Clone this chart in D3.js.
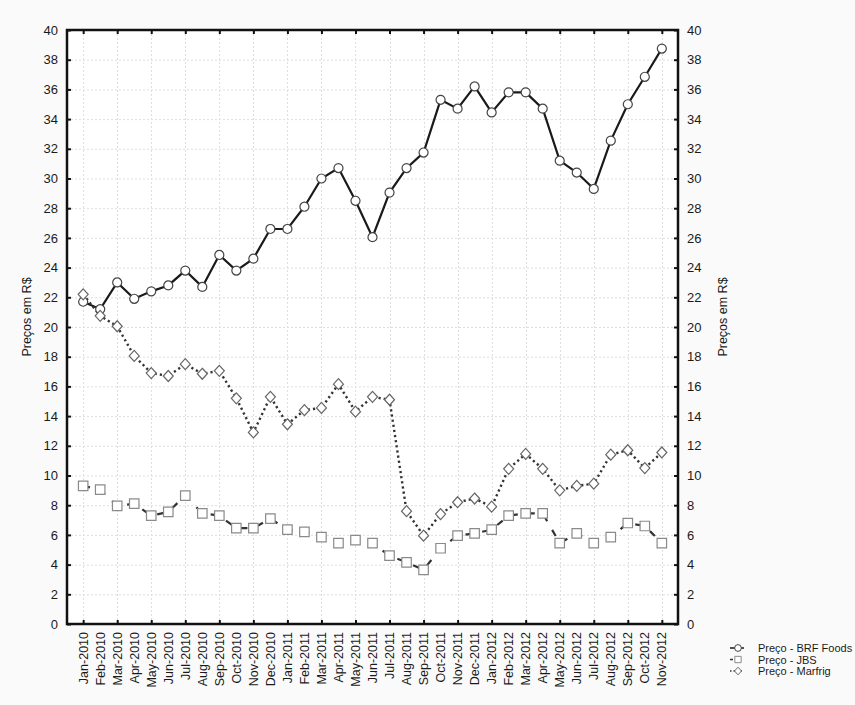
<!DOCTYPE html>
<html>
<head>
<meta charset="utf-8">
<script src="https://cdn.jsdelivr.net/npm/d3@7"></script>
<style>
  html, body { margin: 0; padding: 0; background: #fafafa; }
  svg { display: block; }
  text { font-family: Arial, "Liberation Sans", sans-serif; fill: #1a1a1a; }
</style>
</head>
<body>
<svg id="chart" width="855" height="705"></svg>
<script>
// Monthly share prices (R$), Jan-2010 .. Nov-2012
const months = [
  "Jan-2010","Feb-2010","Mar-2010","Apr-2010","May-2010","Jun-2010","Jul-2010","Aug-2010",
  "Sep-2010","Oct-2010","Nov-2010","Dec-2010","Jan-2011","Feb-2011","Mar-2011","Apr-2011",
  "May-2011","Jun-2011","Jul-2011","Aug-2011","Sep-2011","Oct-2011","Nov-2011","Dec-2011",
  "Jan-2012","Feb-2012","Mar-2012","Apr-2012","May-2012","Jun-2012","Jul-2012","Aug-2012",
  "Sep-2012","Oct-2012","Nov-2012"
];
const brf = [
  21.7, 21.2, 23.0, 21.9, 22.4, 22.8, 23.8, 22.7, 24.85, 23.8, 24.6, 26.6,
  26.6, 28.1, 30.0, 30.7, 28.5, 26.05, 29.05, 30.7, 31.75, 35.3, 34.7, 36.2,
  34.45, 35.8, 35.8, 34.7, 31.2, 30.4, 29.3, 32.55, 35.0, 36.85, 38.75
];
const jbs = [
  9.3, 9.05, 7.95, 8.1, 7.3, 7.55, 8.65, 7.45, 7.3, 6.45, 6.45, 7.1,
  6.35, 6.2, 5.85, 5.45, 5.65, 5.45, 4.6, 4.15, 3.65, 5.1, 5.95, 6.1,
  6.35, 7.3, 7.45, 7.45, 5.45, 6.1, 5.45, 5.85, 6.8, 6.6, 5.45
];
const marfrig = [
  22.2, 20.75, 20.05, 18.05, 16.9, 16.7, 17.5, 16.85, 17.05, 15.2, 12.9, 15.3,
  13.45, 14.4, 14.55, 16.15, 14.3, 15.3, 15.1, 7.6, 5.95, 7.4, 8.2, 8.45,
  7.9, 10.45, 11.45, 10.45, 9.0, 9.3, 9.45, 11.4, 11.7, 10.5, 11.55
];
const yTicks = d3.range(0, 41, 2);
const seriesNames = ["Preço - BRF Foods", "Preço - JBS", "Preço - Marfrig"];
const axisTitle = "Preços em R$";

const svg = d3.select("#chart");
const L = 67, R = 678, T = 30, B = 624;

const x = d3.scalePoint().domain(months).range([L, R]).padding(0.95);
const y = d3.scaleLinear().domain([0, 40]).range([B, T]);

// plot background
svg.append("rect").attr("x", L).attr("y", T).attr("width", R - L).attr("height", B - T)
  .attr("fill", "#ffffff");

// grid
const evenMonths = months.filter((d, i) => i % 2 === 0);
const grid = svg.append("g").attr("stroke", "#dedede").attr("stroke-width", 1)
  .attr("stroke-dasharray", "2,2");
grid.selectAll("line.h").data(yTicks.filter(v => v > 0 && v < 40)).join("line")
  .attr("x1", L).attr("x2", R).attr("y1", d => y(d) + 0.5).attr("y2", d => y(d) + 0.5);
grid.selectAll("line.v").data(evenMonths).join("line")
  .attr("y1", T).attr("y2", B).attr("x1", d => Math.round(x(d)) + 0.5).attr("x2", d => Math.round(x(d)) + 0.5);

// axes
const tickSize = 4;
const fmt = d3.format("d");
const axL = svg.append("g").attr("transform", `translate(${L},0)`)
  .call(d3.axisLeft(y).tickValues(yTicks).tickFormat(fmt).tickSizeInner(-tickSize).tickSizeOuter(0).tickPadding(9));
const axR = svg.append("g").attr("transform", `translate(${R},0)`)
  .call(d3.axisRight(y).tickValues(yTicks).tickFormat(fmt).tickSizeInner(-tickSize).tickSizeOuter(0).tickPadding(9));
const axB = svg.append("g").attr("transform", `translate(0,${B})`)
  .call(d3.axisBottom(x).tickValues(evenMonths).tickSizeInner(-tickSize).tickSizeOuter(0).tickFormat(""));
const axT = svg.append("g").attr("transform", `translate(0,${T})`)
  .call(d3.axisTop(x).tickValues(evenMonths).tickSizeInner(-tickSize).tickSizeOuter(0).tickFormat(""));

[axL, axR, axB, axT].forEach(g => {
  g.select(".domain").remove();
  g.selectAll(".tick line").attr("stroke", "#111").attr("stroke-width", 2);
  g.selectAll("text").attr("font-size", 13).attr("fill", "#1a1a1a")
    .attr("font-family", "Arial, 'Liberation Sans', sans-serif");
});
axL.selectAll(".tick text").attr("x", -9);

// month labels, rotated
svg.append("g").selectAll("text").data(months).join("text")
  .attr("transform", d => `translate(${x(d) + 4.5},${B + 8}) rotate(-90)`)
  .attr("text-anchor", "end")
  .attr("font-size", 12.5)
  .text(d => d);

// frame
svg.append("rect").attr("x", L).attr("y", T).attr("width", R - L).attr("height", B - T)
  .attr("fill", "none").attr("stroke", "#111").attr("stroke-width", 2.5);

// axis titles
svg.append("text").attr("transform", `translate(31,${(T + B) / 2 - 10}) rotate(-90)`)
  .attr("text-anchor", "middle").attr("font-size", 12.5).text(axisTitle);
svg.append("text").attr("transform", `translate(727,${(T + B) / 2 - 10}) rotate(-90)`)
  .attr("text-anchor", "middle").attr("font-size", 12.5).text(axisTitle);

// series
const line = d3.line().x((d, i) => x(months[i])).y(d => y(d));
const styles = [
  { data: brf, dash: null, width: 2.2, color: "#1a1a1a", marker: "circle" },
  { data: jbs, dash: "7,10", width: 2.2, color: "#333", marker: "square" },
  { data: marfrig, dash: "2.2,3", width: 2.4, color: "#333", marker: "diamond" }
];
function diamond(w, h) {
  return `M0,${-h}L${w},0L0,${h}L${-w},0Z`;
}
const markerPath = {
  circle: d3.symbol(d3.symbolCircle, 64)(),
  square: d3.symbol(d3.symbolSquare, 90)(),
  diamond: diamond(5, 5.5)
};
const legendMarker = {
  circle: d3.symbol(d3.symbolCircle, 36)(),
  square: d3.symbol(d3.symbolSquare, 40)(),
  diamond: diamond(3.5, 3.8)
};
const markerStroke = { circle: "#444", square: "#8a8a8a", diamond: "#666" };

styles.forEach(s => {
  svg.append("path").datum(s.data).attr("d", line)
    .attr("fill", "none").attr("stroke", s.color).attr("stroke-width", s.width)
    .attr("stroke-dasharray", s.dash);
});
styles.forEach(s => {
  svg.append("g").selectAll("path").data(s.data).join("path")
    .attr("d", markerPath[s.marker])
    .attr("transform", (d, i) => `translate(${x(months[i])},${y(d)})`)
    .attr("fill", "#fff").attr("stroke", markerStroke[s.marker]).attr("stroke-width", 1.2);
});

// legend
const lg = svg.append("g").attr("transform", "translate(730,648)");
styles.forEach((s, i) => {
  const g = lg.append("g").attr("transform", `translate(0,${i * 11.5})`);
  g.append("line").attr("x1", 0).attr("x2", 14).attr("y1", 0).attr("y2", 0)
    .attr("stroke", s.color).attr("stroke-width", 1.5).attr("stroke-dasharray", s.dash ? (i === 1 ? "3,11" : "1.5,2") : null);
  g.append("path").attr("d", legendMarker[s.marker])
    .attr("transform", "translate(8,0)").attr("fill", "#fff").attr("stroke", markerStroke[s.marker]).attr("stroke-width", 1);
  g.append("text").attr("x", 28).attr("y", 4).attr("font-size", 11).text(seriesNames[i]);
});
</script>
</body>
</html>
